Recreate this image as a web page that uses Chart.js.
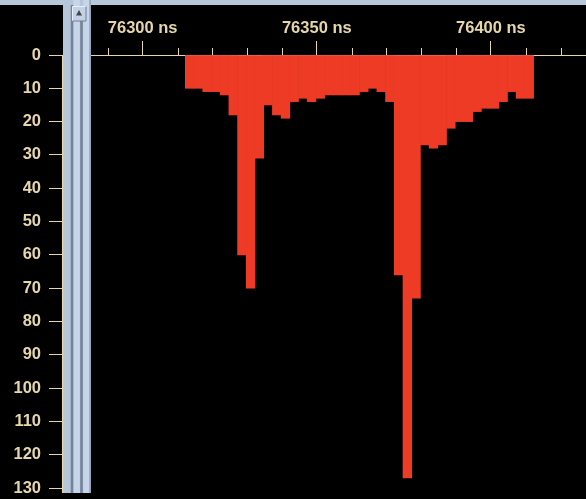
<!DOCTYPE html>
<html>
<head>
<meta charset="utf-8">
<script src="https://cdn.jsdelivr.net/npm/chart.js@4/dist/chart.umd.min.js"></script>
<style>
  html, body { margin: 0; padding: 0; background: #000; overflow: hidden; }
  canvas { display: block; }
</style>
</head>
<body>
<canvas id="trace" width="586" height="499"></canvas>
<script>
// Sample centres (ns), one every 2.5 ns
const sampleTimes = [
  76313.5, 76316, 76318.5, 76321, 76323.5, 76326, 76328.5, 76331, 76333.5, 76336,
  76338.5, 76341, 76343.5, 76346, 76348.5, 76351, 76353.5, 76356, 76358.5, 76361,
  76363.5, 76366, 76368.5, 76371, 76373.5, 76376, 76378.5, 76381, 76383.5, 76386,
  76388.5, 76391, 76393.5, 76396, 76398.5, 76401, 76403.5, 76406, 76408.5, 76411
];
// Signal depth below zero for each sample
const depthValues = [
  10, 10, 11, 11, 12, 18, 60, 70, 31, 15,
  18, 19, 14, 13, 14, 13, 12, 12, 12, 12,
  11, 10, 11, 14, 66, 127, 73, 27, 28, 27,
  22, 20, 20, 17, 16, 16, 14, 11, 13, 13
];
// Time axis ticks (every 10 ns, labelled every 50 ns)
const timeTicks = [76290, 76300, 76310, 76320, 76330, 76340, 76350, 76360, 76370, 76380, 76390, 76400, 76410, 76420];
const labelledTimes = [76300, 76350, 76400];
// Depth axis ticks
const depthTicks = [0, 10, 20, 30, 40, 50, 60, 70, 80, 90, 100, 110, 120, 130];

const TAN = '#e6d7ab';
const RED = '#ee3b25';
const FONT = { family: '"Liberation Sans", Arial, sans-serif', size: 16.5, weight: 'bold' };

// Window chrome: top band, the scrollbar strip, its axis line and the minor time ticks
const chromePlugin = {
  id: 'chrome',
  beforeDraw(chart) {
    const c = chart.ctx;
    c.save();
    c.fillStyle = '#000';
    c.fillRect(0, 0, chart.width, chart.height);
    c.restore();
  },
  afterDraw(chart) {
    const c = chart.ctx;
    const xs = chart.scales.x;
    const top = chart.chartArea.top;
    c.save();

    // minor time ticks
    c.strokeStyle = TAN;
    c.lineWidth = 1;
    timeTicks.forEach(v => {
      if (labelledTimes.includes(v)) return;
      const px = Math.round(xs.getPixelForValue(v)) + 0.5;
      c.beginPath();
      c.moveTo(px, top - 7);
      c.lineTo(px, top);
      c.stroke();
    });

    // top band
    c.fillStyle = '#b7c7dc';
    c.fillRect(0, 0, chart.width, 5);

    // scrollbar strip
    const sx = 63, sw = 28, sh = 493;
    c.fillStyle = '#b6c6da';
    c.fillRect(sx, 0, sw, sh);
    c.fillStyle = '#c6d5e8';
    c.fillRect(73.3, 0, 6.5, sh);
    c.fillRect(83.3, 0, 6, sh);
    c.fillStyle = '#74839a';
    c.fillRect(70.7, 5, 2.6, sh - 5);
    c.fillRect(80.2, 21, 2.6, sh - 21);
    c.fillStyle = '#95a6bc';
    c.fillRect(89.3, 0, 1.7, sh);

    // scroll button with arrow
    c.fillStyle = '#c3d1e3';
    c.fillRect(72.5, 6.5, 13.5, 14.5);
    c.strokeStyle = '#e8eef6';
    c.beginPath();
    c.moveTo(72.5, 21); c.lineTo(72.5, 6.5); c.lineTo(86, 6.5);
    c.stroke();
    c.strokeStyle = '#6f7e94';
    c.beginPath();
    c.moveTo(86, 6.5); c.lineTo(86, 21); c.lineTo(72.5, 21);
    c.stroke();
    c.fillStyle = '#3e4652';
    c.beginPath();
    c.moveTo(79, 10); c.lineTo(76, 15.5); c.lineTo(82, 15.5);
    c.closePath();
    c.fill();

    // depth axis line
    c.strokeStyle = TAN;
    c.lineWidth = 1.3;
    c.beginPath();
    c.moveTo(62.6, top);
    c.lineTo(62.6, 493);
    c.stroke();

    c.restore();
  }
};

new Chart(document.getElementById('trace').getContext('2d'), {
  type: 'bar',
  data: {
    datasets: [{
      data: sampleTimes.map((t, i) => ({ x: t, y: depthValues[i] })),
      backgroundColor: RED,
      borderWidth: 0,
      barPercentage: 1,
      categoryPercentage: 1
    }]
  },
  options: {
    responsive: false,
    devicePixelRatio: 1,
    animation: false,
    layout: { padding: 0 },
    plugins: { legend: { display: false }, tooltip: { enabled: false } },
    scales: {
      x: {
        type: 'linear',
        position: 'top',
        offset: false,
        min: 76285.16,
        max: 76427.3,
        afterBuildTicks: s => { s.ticks = timeTicks.map(v => ({ value: v })); },
        afterFit: s => { s.height = 55; s.paddingLeft = 0; s.paddingRight = 0; },
        grid: {
          offset: false,
          drawOnChartArea: false,
          tickLength: 14,
          tickWidth: 1,
          tickColor: ctx => (ctx.tick && labelledTimes.includes(ctx.tick.value)) ? TAN : 'rgba(0,0,0,0)'
        },
        border: { color: TAN, width: 1 },
        ticks: {
          autoSkip: false,
          maxRotation: 0,
          padding: 3,
          color: TAN,
          font: FONT,
          callback: v => labelledTimes.includes(v) ? v + ' ns' : ''
        }
      },
      y: {
        type: 'linear',
        position: 'left',
        reverse: true,
        min: 0,
        max: 133.3,
        afterBuildTicks: s => { s.ticks = depthTicks.map(v => ({ value: v })); },
        afterFit: s => { s.width = 91; s.paddingTop = 0; s.paddingBottom = 0; },
        grid: { drawOnChartArea: false, tickLength: 42, color: TAN, lineWidth: 1 },
        border: { display: false },
        ticks: { padding: 8, color: TAN, font: FONT }
      }
    }
  },
  plugins: [chromePlugin]
});
</script>
</body>
</html>
